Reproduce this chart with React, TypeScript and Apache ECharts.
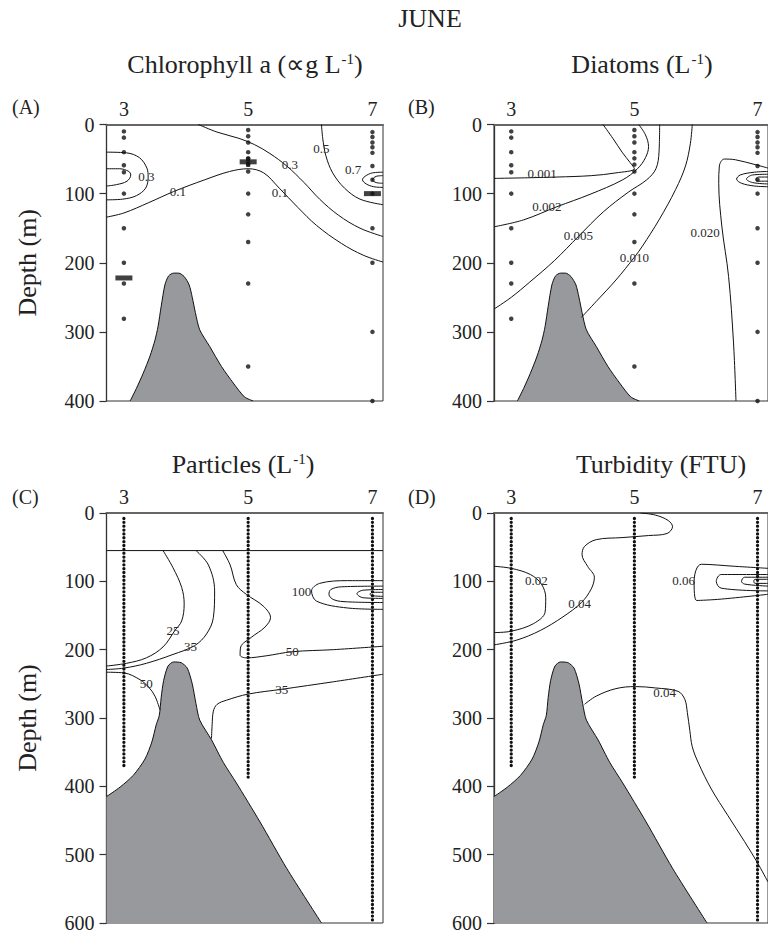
import React, { useEffect, useRef } from 'react';
import * as echarts from 'echarts';

const FONT = '"Liberation Serif", "Times New Roman", serif';
const INK = '#111';
const HILL = '#98999d';

// ---------- axes ----------
const stationLabels = [3, 5, 7];
const stationMin = 2.72;
const stationMax = 7.17;
const depthMaxTop = 400;
const depthMaxBottom = 600;

// ---------- sampling depths (panels A, B) ----------
const bottleSt3 = [10, 19, 40, 59, 69, 100, 150, 200, 230, 281];
const bottleSt5 = [8, 17, 26, 40, 49, 58, 68, 100, 130, 170, 230, 350];
const bottleSt7 = [11, 18, 26, 33, 41, 60, 80, 100, 150, 200, 300, 400];

// ---------- continuous profiles (panels C, D) ----------
const profileSt3 = [[3, 8], [3, 372]];
const profileSt5 = [[5, 8], [5, 392]];
const profileSt7 = [[7, 8], [7, 600]];

// ---------- bathymetry ----------
const hillTop = [[3.1, 400], [3.2, 382], [3.31, 360], [3.42, 335], [3.5, 312], [3.55, 292], [3.6, 263], [3.66, 232], [3.72, 219], [3.8, 215], [3.88, 215], [3.97, 220], [4.05, 232], [4.1, 250], [4.15, 272], [4.22, 297], [4.38, 321], [4.57, 350], [4.76, 374], [4.94, 394], [5.08, 400]];
const hillBottom = [[2.72, 415], [2.94, 401], [3.15, 384], [3.34, 360], [3.45, 335], [3.52, 310], [3.57, 296], [3.6, 270], [3.64, 245], [3.71, 224], [3.8, 218], [3.92, 219], [4.02, 227], [4.1, 250], [4.16, 279], [4.22, 303], [4.41, 332], [4.6, 365], [4.81, 395], [5.19, 452], [5.62, 520], [6.18, 600]];

// ---------- (A) Chlorophyll a ----------
const chl03Left = [[2.72, 40], [3.04, 41], [3.25, 48], [3.37, 63], [3.39, 76], [3.35, 92], [3.2, 103], [2.98, 108], [2.72, 109]];
const chl05Left = [[2.72, 64], [2.93, 64], [3.08, 68], [3.11, 73], [3.05, 82], [2.88, 87], [2.72, 89]];
const chl01 = [[2.72, 134], [3.0, 128], [3.4, 113], [3.8, 97], [4.3, 80], [4.7, 68], [5.0, 64], [5.25, 70], [5.5, 92], [5.8, 120], [6.1, 146], [6.5, 172], [6.85, 189], [7.17, 199]];
const chl03Right = [[4.2, 0], [4.5, 11], [4.85, 20], [5.1, 29], [5.35, 42], [5.62, 60], [5.9, 84], [6.15, 108], [6.45, 131], [6.8, 150], [7.17, 162]];
const chl05Right = [[6.18, 0], [6.2, 20], [6.25, 45], [6.36, 70], [6.55, 92], [6.8, 108], [7.17, 116]];
const chl07Outer = [[7.17, 69], [7.0, 70], [6.88, 75], [6.84, 80], [6.9, 86], [7.02, 90], [7.17, 91]];
const chl07Inner = [[7.17, 74], [7.06, 75], [7.0, 80], [7.06, 84], [7.17, 85]];
const chlLabels = [['0.3', 3.36, 75], ['0.1', 3.87, 97], ['0.3', 5.67, 58], ['0.1', 5.51, 99], ['0.5', 6.18, 35], ['0.7', 6.69, 65]];
const chlMinusMarks = [[3, 222], [7, 100]];
const chlPlusMarks = [[5, 54]];

// ---------- (B) Diatoms ----------
const dia001 = [[2.72, 78], [3.3, 77], [3.74, 76], [4.3, 74], [4.7, 70], [5.0, 64], [4.93, 55], [4.8, 40], [4.65, 20], [4.49, 0]];
const dia002 = [[2.72, 148], [3.2, 138], [3.74, 119], [4.28, 101], [4.81, 80], [5.05, 64], [5.18, 48], [5.23, 32], [5.18, 15], [5.07, 0]];
const dia005 = [[2.72, 267], [3.0, 250], [3.3, 228], [3.7, 197], [4.09, 162], [4.5, 126], [4.9, 98], [5.2, 80], [5.35, 64], [5.4, 40], [5.41, 0]];
const dia010 = [[4.14, 279], [4.38, 256], [4.7, 225], [5.0, 192], [5.13, 176], [5.4, 138], [5.67, 94], [5.83, 60], [5.91, 27], [5.94, 0]];
const dia020 = [[6.65, 400], [6.61, 316], [6.53, 220], [6.42, 147], [6.37, 85], [6.38, 60], [6.46, 50], [6.64, 51], [6.96, 58], [7.17, 63]];
const diaPeak1 = [[7.17, 68], [6.95, 69], [6.72, 73], [6.66, 79], [6.74, 85], [6.95, 89], [7.17, 90]];
const diaPeak2 = [[7.17, 72], [6.92, 73], [6.82, 79], [6.92, 84], [7.17, 86]];
const diaPeak3 = [[7.17, 76], [7.02, 76], [6.97, 79], [7.02, 82], [7.17, 82]];
const diaLabels = [['0.001', 3.5, 71], ['0.002', 3.58, 118], ['0.005', 4.09, 161], ['0.010', 5.0, 192], ['0.020', 6.15, 156]];

// ---------- (C) Particles ----------
const parTopLine = [[2.72, 55], [7.17, 55]];
const par25 = [[3.63, 55], [3.79, 80], [3.93, 109], [3.97, 133], [3.93, 158], [3.82, 172], [3.63, 196], [3.36, 212], [3.04, 220], [2.72, 224]];
const par35Upper = [[4.16, 55], [4.36, 76], [4.46, 114], [4.44, 153], [4.33, 177], [4.14, 194], [3.79, 207], [3.36, 220], [3.0, 227], [2.72, 229]];
const par50Left = [[2.72, 233], [3.0, 234], [3.26, 244], [3.4, 255], [3.5, 268], [3.58, 288]];
const par50Right = [[4.59, 55], [4.71, 76], [4.81, 105], [4.97, 119], [5.24, 136], [5.36, 153], [5.27, 167], [5.05, 182], [4.88, 196], [4.87, 208], [4.97, 212], [5.29, 209], [5.71, 203], [6.37, 200], [7.17, 195]];
const par35Lower = [[4.41, 330], [4.42, 310], [4.44, 290], [4.5, 280], [4.65, 274], [5.0, 265], [5.54, 258], [6.37, 247], [7.17, 236]];
const par100a = [[7.17, 99], [6.6, 99], [6.15, 103], [6.02, 114], [6.1, 129], [6.6, 139], [7.17, 141]];
const par100b = [[7.17, 107], [6.5, 108], [6.33, 112], [6.3, 119], [6.38, 127], [6.6, 130], [7.17, 131]];
const par100c = [[7.17, 112], [6.85, 113], [6.75, 118], [6.85, 124], [7.17, 125]];
const par100d = [[7.17, 116], [7.0, 116], [6.96, 119], [7.0, 121], [7.17, 122]];
const parLabels = [['25', 3.79, 172], ['35', 4.07, 196], ['50', 3.36, 249], ['50', 5.71, 202], ['35', 5.54, 258], ['100', 5.86, 115]];

// ---------- (D) Turbidity ----------
const tur002 = [[2.72, 78], [3.0, 81], [3.31, 90], [3.49, 104], [3.56, 124], [3.55, 145], [3.36, 162], [3.0, 173], [2.72, 175]];
const tur004Upper = [[5.1, 0], [5.34, 3], [5.55, 11], [5.62, 20], [5.53, 30], [5.23, 33], [4.8, 36], [4.38, 39], [4.19, 49], [4.15, 61], [4.24, 78], [4.35, 94], [4.3, 111], [4.14, 131], [3.84, 152], [3.47, 172], [3.09, 186], [2.72, 193]];
const tur006a = [[7.17, 81], [6.63, 78], [6.09, 75], [5.97, 100], [6.01, 128], [6.41, 126], [7.17, 119]];
const tur006b = [[7.17, 90], [6.41, 90], [6.33, 100], [6.41, 110], [7.17, 114]];
const tur006c = [[7.17, 94], [6.79, 94], [6.74, 100], [6.79, 104], [7.17, 107]];
const tur006d = [[7.17, 97], [6.96, 97], [6.94, 100], [6.96, 103], [7.17, 103]];
const tur004Lower = [[4.19, 280], [4.38, 268], [4.7, 257], [5.02, 254], [5.34, 256], [5.71, 261], [5.82, 273], [5.86, 292], [5.9, 318], [5.94, 342], [6.04, 366], [6.25, 404], [6.52, 443], [6.79, 481], [7.0, 512], [7.17, 540]];
const turLabels = [['0.02', 3.41, 99], ['0.04', 4.11, 132], ['0.06', 5.8, 99], ['0.04', 5.49, 263]];

// ---------- layout ----------
const grids = [
  { left: 106.5, top: 124.5, width: 276.5, height: 276.5 },
  { left: 494, top: 124.5, width: 276.5, height: 276.5 },
  { left: 106.5, top: 513, width: 276.5, height: 416 },
  { left: 494, top: 513, width: 276.5, height: 416 },
];

function contour(gi: number, data: number[][]) {
  return {
    type: 'line', xAxisIndex: gi, yAxisIndex: gi, data, symbol: 'none', showSymbol: false,
    smooth: 0.35, lineStyle: { color: INK, width: 1 }, silent: true, z: 3,
  };
}
function hill(gi: number, data: number[][]) {
  return {
    type: 'line', xAxisIndex: gi, yAxisIndex: gi, data, symbol: 'none', showSymbol: false,
    smooth: 0.25, lineStyle: { color: INK, width: 1 },
    areaStyle: { color: HILL, opacity: 1, origin: 'end' }, silent: true, z: 2,
  };
}
function bottles(gi: number) {
  const pts: number[][] = [];
  bottleSt3.forEach((d) => pts.push([3, d]));
  bottleSt5.forEach((d) => pts.push([5, d]));
  bottleSt7.forEach((d) => pts.push([7, d]));
  return {
    type: 'scatter', xAxisIndex: gi, yAxisIndex: gi, data: pts, symbol: 'circle', symbolSize: 4.5,
    itemStyle: { color: INK }, silent: true, z: 4,
  };
}
function profile(gi: number, data: number[][]) {
  return {
    type: 'line', xAxisIndex: gi, yAxisIndex: gi, data, symbol: 'none', showSymbol: false,
    lineStyle: { color: INK, width: 3.3, type: [0.01, 3.85], cap: 'round' }, silent: true, z: 4,
  };
}
function labels(gi: number, items: (string | number)[][]) {
  return {
    type: 'scatter', xAxisIndex: gi, yAxisIndex: gi,
    color: '#2a2a2a',
    data: items.map((it) => ({
      value: [it[1], it[2]], name: String(it[0]),
      label: { color: '#2a2a2a' },
    })),
    symbol: 'circle', symbolSize: 0, itemStyle: { color: '#2a2a2a', opacity: 1 }, silent: true, z: 5,
    label: {
      show: true, position: 'inside', formatter: '{b}', fontSize: 13, fontFamily: FONT, color: '#2a2a2a',
      textBorderWidth: 0,
    },
  };
}

function buildOption() {
  const xAxis = grids.map((_, i) => ({
    gridIndex: i, type: 'value', position: 'top', min: stationMin, max: stationMax,
    axisLine: { show: true, onZero: false, lineStyle: { color: '#666', width: 2 } },
    axisTick: { show: false },
    axisLabel: { show: true, customValues: stationLabels, fontSize: 20, fontFamily: FONT, color: '#222', margin: 6 },
    splitLine: { show: false },
  }));
  const yAxis = grids.map((_, i) => ({
    gridIndex: i, type: 'value', inverse: true, min: 0, max: i < 2 ? depthMaxTop : depthMaxBottom, interval: 100,
    axisLine: { show: true, onZero: false, lineStyle: { color: '#333', width: 1.3 } },
    axisTick: { show: true, inside: false, length: 7, lineStyle: { color: '#333', width: 1.2 } },
    axisLabel: { fontSize: 20, fontFamily: FONT, color: '#222', margin: 12 },
    splitLine: { show: false },
    name: i % 2 === 0 ? 'Depth (m)' : '', nameLocation: 'middle', nameGap: 66,
    nameTextStyle: { fontSize: 26, fontFamily: FONT, color: '#222' },
  }));
  const series: any[] = [
    // A
    hill(0, hillTop),
    contour(0, chl03Left), contour(0, chl05Left), contour(0, chl01), contour(0, chl03Right),
    contour(0, chl05Right), contour(0, chl07Outer), contour(0, chl07Inner),
    bottles(0), labels(0, chlLabels),
    {
      type: 'scatter', xAxisIndex: 0, yAxisIndex: 0, data: [...chlMinusMarks, ...chlPlusMarks], symbol: 'rect',
      symbolSize: [17, 5], itemStyle: { color: INK }, silent: true, z: 6,
    },
    {
      type: 'scatter', xAxisIndex: 0, yAxisIndex: 0, data: chlPlusMarks, symbol: 'rect',
      symbolSize: [4, 10], itemStyle: { color: INK }, silent: true, z: 6,
    },
    // B
    hill(1, hillTop),
    contour(1, dia001), contour(1, dia002), contour(1, dia005), contour(1, dia010), contour(1, dia020),
    contour(1, diaPeak1), contour(1, diaPeak2), contour(1, diaPeak3),
    bottles(1), labels(1, diaLabels),
    // C
    hill(2, hillBottom),
    { ...contour(2, parTopLine), smooth: false },
    contour(2, par25), contour(2, par35Upper), contour(2, par50Left), contour(2, par50Right), contour(2, par35Lower),
    contour(2, par100a), contour(2, par100b), contour(2, par100c), contour(2, par100d),
    profile(2, profileSt3), profile(2, profileSt5), profile(2, profileSt7),
    labels(2, parLabels),
    // D
    hill(3, hillBottom),
    contour(3, tur002), contour(3, tur004Upper), contour(3, tur006a), contour(3, tur006b), contour(3, tur006c),
    contour(3, tur006d), contour(3, tur004Lower),
    profile(3, profileSt3), profile(3, profileSt5), profile(3, profileSt7),
    labels(3, turLabels),
  ];
  const sup = { fontSize: 15, fontFamily: FONT, fill: '#222', verticalAlign: 'top', padding: [0, 0, 0, 1] };
  const titleStyle = (text: string, x: number, y: number) => ({
    type: 'text', x, y,
    style: {
      text, fontSize: 26, fontFamily: FONT, fill: '#222', textAlign: 'center', textVerticalAlign: 'middle',
      rich: { sup },
    },
  });
  const panelLetter = (text: string, x: number, y: number) => ({
    type: 'text', x, y, style: { text, fontSize: 20, fontFamily: FONT, fill: '#222', textAlign: 'left', textVerticalAlign: 'middle' },
  });
  return {
    animation: false,
    backgroundColor: '#fff',
    color: ['#111'],
    grid: grids.map((g) => ({ ...g, show: true, borderColor: '#333', borderWidth: 1, backgroundColor: 'transparent' })),
    xAxis, yAxis, series,
    graphic: [
      titleStyle('JUNE', 430, 18),
      titleStyle('Chlorophyll a (∝g L{sup|-1})', 245, 64),
      titleStyle('Diatoms (L{sup|-1})', 642, 64),
      titleStyle('Particles (L{sup|-1})', 243, 464),
      titleStyle('Turbidity (FTU)', 661, 464),
      panelLetter('(A)', 12, 107),
      panelLetter('(B)', 408, 107),
      panelLetter('(C)', 12, 497),
      panelLetter('(D)', 408, 497),
    ],
  };
}

export default function App() {
  const ref = useRef<HTMLDivElement>(null);
  useEffect(() => {
    if (!ref.current) return;
    const chart = echarts.init(ref.current, null, { renderer: 'svg' });
    chart.setOption(buildOption() as any);
    return () => chart.dispose();
  }, []);
  return <div ref={ref} style={{ position: 'absolute', left: 0, top: 0, width: 768, height: 933, background: '#fff' }} />;
}
